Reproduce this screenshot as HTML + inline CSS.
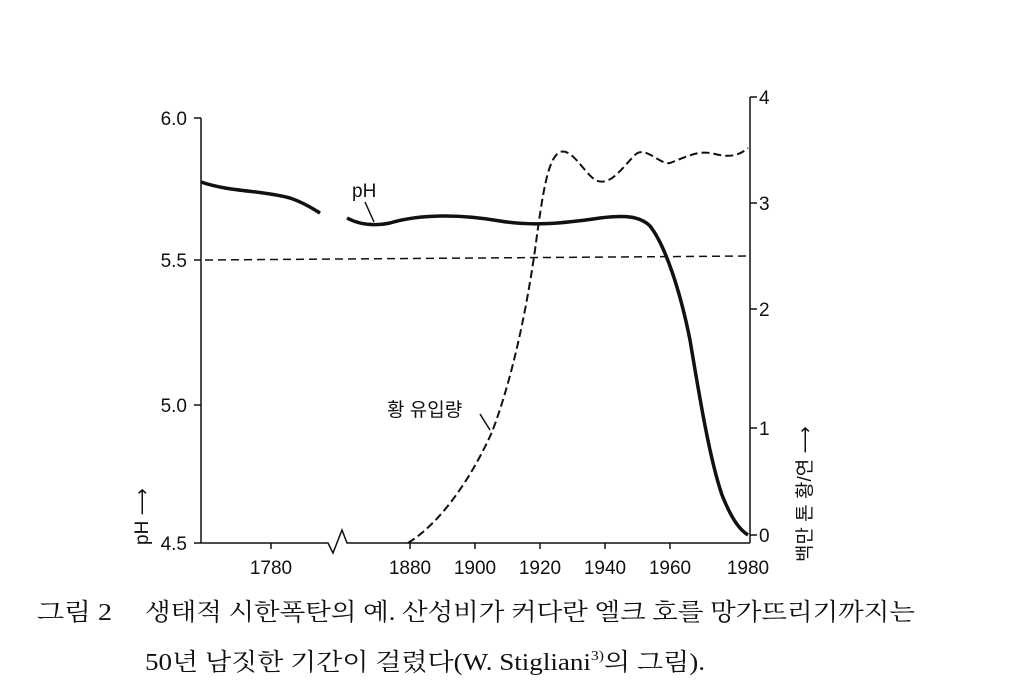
<!DOCTYPE html>
<html><head><meta charset="utf-8"><style>
body{margin:0;background:#fff;}
svg text{font-family:"Liberation Sans","Noto Sans CJK KR",sans-serif;fill:#111;}
.cap{font-family:"Liberation Serif","Noto Serif CJK SC","Noto Sans CJK KR",serif;font-size:24px;}
</style></head><body>
<svg width="1018" height="688" viewBox="0 0 1018 688" xmlns="http://www.w3.org/2000/svg">
<g stroke="#111" fill="none" stroke-width="1.5">
<line x1="201" y1="118" x2="201" y2="543"/>
<line x1="194" y1="118" x2="201" y2="118"/><line x1="194" y1="260" x2="201" y2="260"/>
<line x1="194" y1="405" x2="201" y2="405"/><line x1="194" y1="543" x2="201" y2="543"/>
<polyline points="201,543 328,543 333,553 342,530 347,543 750,543"/>
<g><line x1="271" y1="543" x2="271" y2="549"/><line x1="410" y1="543" x2="410" y2="549"/><line x1="475" y1="543" x2="475" y2="549"/><line x1="540" y1="543" x2="540" y2="549"/><line x1="605" y1="543" x2="605" y2="549"/><line x1="670" y1="543" x2="670" y2="549"/></g>
<line x1="750" y1="97" x2="750" y2="543"/>
<line x1="750" y1="97" x2="757" y2="97"/><line x1="750" y1="203" x2="757" y2="203"/><line x1="750" y1="309" x2="757" y2="309"/><line x1="750" y1="428" x2="757" y2="428"/><line x1="750" y1="535" x2="757" y2="535"/>
<line x1="205" y1="260" x2="750" y2="256" stroke-dasharray="8,5"/>
<path d="M201,182 C230,192 260,190 290,198 C305,203 315,210 320,213" stroke-width="3.5"/>
<path d="M347,218 C360,225 375,226 390,223 C420,214 460,214 500,221 C530,226 560,224 600,218 C625,215 640,216 650,226 C665,245 680,290 690,340 C700,400 710,460 722,495 C732,520 740,530 748,535" stroke-width="3.5"/>
<path d="M408,543 C445,520 475,470 492,432 C510,385 525,320 535,250 C543,190 548,158 560,152 C572,148 582,170 595,180 C610,187 620,170 635,155 C645,145 660,165 670,163 C690,155 700,150 715,154 C730,158 740,155 748,148" stroke-width="2" stroke-dasharray="8,4"/>
<line x1="365" y1="202" x2="374" y2="222" stroke-width="1.5"/>
<line x1="480" y1="414" x2="490" y2="430" stroke-width="1.5"/>
</g>
<g font-size="19">
<text x="187" y="125" text-anchor="end">6.0</text>
<text x="187" y="267" text-anchor="end">5.5</text>
<text x="187" y="412" text-anchor="end">5.0</text>
<text x="187" y="550" text-anchor="end">4.5</text>
<text x="271" y="574" text-anchor="middle">1780</text>
<text x="410" y="574" text-anchor="middle">1880</text>
<text x="475" y="574" text-anchor="middle">1900</text>
<text x="540" y="574" text-anchor="middle">1920</text>
<text x="605" y="574" text-anchor="middle">1940</text>
<text x="670" y="574" text-anchor="middle">1960</text>
<text x="748" y="574" text-anchor="middle">1980</text>
<text x="759" y="104">4</text><text x="759" y="210">3</text><text x="759" y="316">2</text><text x="759" y="435">1</text><text x="759" y="542">0</text>
<text x="352" y="197">pH</text>
<text x="387" y="416">황 유입량</text>
<text transform="translate(148,545) rotate(-90)">pH ⟶</text>
<text transform="translate(811,562) rotate(-90)">백만 톤 황/연 ⟶</text>
</g>
<text class="cap" x="37" y="620" textLength="75" lengthAdjust="spacingAndGlyphs">그림 2</text>
<text class="cap" x="145" y="620" textLength="770" lengthAdjust="spacingAndGlyphs">생태적 시한폭탄의 예. 산성비가 커다란 엘크 호를 망가뜨리기까지는</text>
<text class="cap" x="145" y="670" textLength="560" lengthAdjust="spacingAndGlyphs">50년 남짓한 기간이 걸렸다(W. Stigliani<tspan font-size="14" dy="-10">3)</tspan><tspan dy="10">의 그림).</tspan></text>
</svg>
</body></html>
